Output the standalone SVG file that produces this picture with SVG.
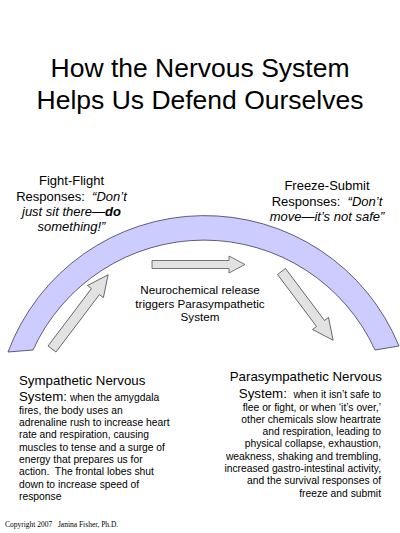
<svg xmlns="http://www.w3.org/2000/svg" width="400" height="533" viewBox="0 0 400 533">
<style>
text{font-family:"Liberation Sans",Arial,sans-serif;fill:#000;white-space:pre}
.title{font-size:26.5px;text-anchor:middle}
.lbl{font-size:13px;text-anchor:middle}
.it{font-style:italic}
.b{font-weight:bold}
.mid{font-size:11.7px;text-anchor:middle}
.big{font-size:13.3px}
.sm{font-size:10.3px}
.arrow{fill:#E2E2E2;stroke:#555;stroke-width:0.8;stroke-linejoin:miter}
.copy{font-family:"Liberation Serif","Times New Roman",serif;font-size:7.5px}
</style>
<rect width="400" height="533" fill="#fff"/>
<g id="title">
<text class="title" x="200" y="77">How the Nervous System</text>
<text class="title" x="200" y="108.5">Helps Us Defend Ourselves</text>
</g>
<g id="arc">
<path d="M8 352 A210 210 0 0 1 399 346 L375 350 A188 188 0 0 0 33 350 Z" fill="#CCCCFF" stroke="#3A3A5A" stroke-width="0.8"/>
</g>
<g id="connectors">
<polygon class="arrow" transform="translate(52,349) rotate(-52.9)" points="0,-5 72,-5 72,-10 93,0 72,10 72,5 0,5"/>
<polygon class="arrow" transform="translate(152,264.5)" points="0,-4 77,-4 77,-8.5 93,0 77,8.5 77,4 0,4"/>
<polygon class="arrow" transform="translate(281.5,271.5) rotate(53.1)" points="0,-5 65,-5 65,-10 86,0 65,10 65,5 0,5"/>
</g>
<g id="fight-flight">
<text class="lbl" x="71.5" y="185">Fight-Flight</text>
<text class="lbl" x="71.5" y="200.5">Responses:  <tspan class="it">“Don’t</tspan></text>
<text class="lbl it" x="71.5" y="216">just sit there—<tspan class="b">do</tspan></text>
<text class="lbl it" x="71.5" y="231">something!”</text>
</g>
<g id="freeze-submit">
<text class="lbl" x="327" y="190">Freeze-Submit</text>
<text class="lbl" x="327" y="205.5">Responses:  <tspan class="it">“Don’t</tspan></text>
<text class="lbl it" x="327" y="221">move—it’s not safe”</text>
</g>
<g id="neurochemical">
<text class="mid" x="200" y="294">Neurochemical release</text>
<text class="mid" x="200" y="307.5">triggers Parasympathetic</text>
<text class="mid" x="200" y="321">System</text>
</g>
<g id="sympathetic">
<text class="big" x="19" y="385">Sympathetic Nervous</text>
<text x="19" y="401"><tspan class="big">System:</tspan><tspan class="sm"> when the amygdala</tspan></text>
<text class="sm" x="19" y="413.5">fires, the body uses an</text>
<text class="sm" x="19" y="426">adrenaline rush to increase heart</text>
<text class="sm" x="19" y="438.3">rate and respiration, causing</text>
<text class="sm" x="19" y="450.6">muscles to tense and a surge of</text>
<text class="sm" x="19" y="462.9">energy that prepares us for</text>
<text class="sm" x="19" y="475.2">action.  The frontal lobes shut</text>
<text class="sm" x="19" y="487.5">down to increase speed of</text>
<text class="sm" x="19" y="499.8">response</text>
</g>
<g id="parasympathetic">
<text class="big" x="382" y="381" text-anchor="end">Parasympathetic Nervous</text>
<text x="381" y="398" text-anchor="end"><tspan class="big">System:</tspan><tspan class="big" fill="#F2E7A0">:</tspan><tspan class="sm"> when it isn’t safe to</tspan></text>
<text class="sm" x="381" y="410.5" text-anchor="end">flee or fight, or when ‘it’s over,’</text>
<text class="sm" x="381" y="422.8" text-anchor="end">other chemicals slow heartrate</text>
<text class="sm" x="381" y="435.1" text-anchor="end">and respiration, leading to</text>
<text class="sm" x="381" y="447.4" text-anchor="end">physical collapse, exhaustion,</text>
<text class="sm" x="381" y="459.7" text-anchor="end">weakness, shaking and trembling,</text>
<text class="sm" x="381" y="472" text-anchor="end">increased gastro-intestinal activity,</text>
<text class="sm" x="381" y="484.3" text-anchor="end">and the survival responses of</text>
<text class="sm" x="381" y="496.6" text-anchor="end">freeze and submit</text>
</g>
<g id="copyright">
<text class="copy" x="5" y="527">Copyright 2007   Janina Fisher, Ph.D.</text>
</g>
</svg>
